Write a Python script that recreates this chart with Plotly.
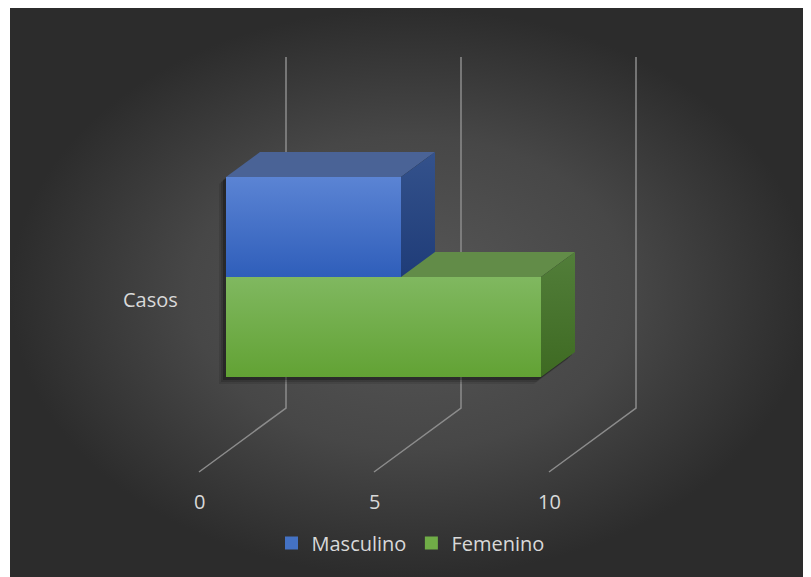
import plotly.graph_objects as go

# ---------------- data ----------------
categories = ["Casos"]
series_names = ["Masculino", "Femenino"]
values = [5, 9]
tick_values = [0, 5, 10]
tick_labels = ["0", "5", "10"]

# ---------------- styling / geometry constants ----------------
PAGE_OFF = 8                   # browser body margin
FIG_W, FIG_H = 811 - PAGE_OFF, 577 - PAGE_OFF
SCR_L, SCR_T, SCR_R, SCR_B = 10, 8, 811, 577   # dark area on screen
PX_PER_VAL = 35.0              # pixels per value unit
PX_PER_BAND = 100.0            # pixels per band unit (vertical)
X0_PX, Y0_PX = 226, 277        # screen pixel of value 0 / category centre on the front plane

def vx(px):
    return (px - X0_PX) / PX_PER_VAL

def vy(py):
    return (Y0_PX - py) / PX_PER_BAND

XR = [vx(SCR_L), vx(SCR_R)]
YR = [vy(SCR_B), vy(SCR_T)]

BAR_DX, BAR_DY = 34 / PX_PER_VAL, 25 / PX_PER_BAND       # bar depth
WALL_DX, WALL_DY = 60 / PX_PER_VAL, 44 / PX_PER_BAND     # back wall offset
FLOOR_DX, FLOOR_DY = -27 / PX_PER_VAL, -20 / PX_PER_BAND # floor front offset
FLOOR_Y = vy(452)
WALL_TOP_Y = vy(101)

# band per series: (bottom, top) in band units
bands = {"Masculino": (0.0, 1.0), "Femenino": (-1.0, 0.0)}
colors = {
    "Masculino": dict(front=("#2f5eba", "#5b84d4"), top="#4a6396",
                      side=("#1f3c78", "#34528c"), legend="#4472c4"),
    "Femenino": dict(front=("#62a234", "#80b860"), top="#628c48",
                     side=("#3e6a22", "#527e3a"), legend="#70ad47"),
}
TEXT = "#d9d9d9"
GRID = "#8c8c8c"
FONT = "Open Sans"

fig = go.Figure()

# background radial gradient
fig.add_trace(go.Scatter(
    x=[XR[0], XR[1], XR[1], XR[0], XR[0]],
    y=[YR[0], YR[0], YR[1], YR[1], YR[0]],
    mode="lines", line=dict(width=0), fill="toself",
    fillgradient=dict(type="radial",
                      colorscale=[[0, "#575757"], [0.55, "#474747"], [1, "#2c2c2c"]]),
    hoverinfo="skip", showlegend=False))

# gridlines: back wall verticals + floor diagonals
for t in tick_values:
    xs = [t + FLOOR_DX, t + WALL_DX, t + WALL_DX]
    ys = [FLOOR_Y + FLOOR_DY, FLOOR_Y + WALL_DY, WALL_TOP_Y + WALL_DY]
    fig.add_trace(go.Scatter(x=xs, y=ys, mode="lines",
                             line=dict(color=GRID, width=1.5),
                             hoverinfo="skip", showlegend=False))

# shadow silhouette of the whole bar block
def block_outline(offx, offy):
    vm, vf = values[0], values[1]
    b0, t0 = bands["Masculino"]
    b1, t1 = bands["Femenino"]
    pts = [(0, b1), (0, t0), (BAR_DX, t0 + BAR_DY), (vm + BAR_DX, t0 + BAR_DY),
           (vm + BAR_DX, b0 + BAR_DY), (vf + BAR_DX, t1 + BAR_DY),
           (vf + BAR_DX, b1 + BAR_DY), (vf, b1), (0, b1)]
    return [p[0] + offx for p in pts], [p[1] + offy for p in pts]

for k, op in [(7, 0.10), (5, 0.15), (3, 0.25)]:
    sx, sy = block_outline(-k / PX_PER_VAL, -k / PX_PER_BAND)
    fig.add_trace(go.Scatter(x=sx, y=sy, mode="lines", line=dict(width=0),
                             fill="toself", fillcolor=f"rgba(0,0,0,{op})",
                             hoverinfo="skip", showlegend=False))

# bars: draw Femenino first, then Masculino
for name in ["Femenino", "Masculino"]:
    v = values[series_names.index(name)]
    b, t = bands[name]
    c = colors[name]
    # top face
    fig.add_trace(go.Scatter(
        x=[0, v, v + BAR_DX, BAR_DX, 0], y=[t, t, t + BAR_DY, t + BAR_DY, t],
        mode="lines", line=dict(width=0), fill="toself", fillcolor=c["top"],
        hoverinfo="skip", showlegend=False))
    # side face
    fig.add_trace(go.Scatter(
        x=[v, v + BAR_DX, v + BAR_DX, v, v], y=[b, b + BAR_DY, t + BAR_DY, t, b],
        mode="lines", line=dict(width=0), fill="toself",
        fillgradient=dict(type="vertical", colorscale=[[0, c["side"][0]], [1, c["side"][1]]]),
        hoverinfo="skip", showlegend=False))
    # front face
    fig.add_trace(go.Scatter(
        x=[0, v, v, 0, 0], y=[b, b, t, t, b],
        mode="lines", line=dict(width=0), fill="toself",
        fillgradient=dict(type="vertical", colorscale=[[0, c["front"][0]], [1, c["front"][1]]]),
        hovertemplate=f"{name}: {v}<extra></extra>", showlegend=False))

# legend entries
for name in series_names:
    fig.add_trace(go.Scatter(x=[None], y=[None], mode="markers", name=name,
                             marker=dict(symbol="square", size=13,
                                         color=colors[name]["legend"])))

# tick labels on the floor front edge
for t, lab in zip(tick_values, tick_labels):
    fig.add_annotation(x=t + FLOOR_DX, y=FLOOR_Y + FLOOR_DY, text=lab,
                       showarrow=False, yshift=-29,
                       font=dict(family=FONT, size=20, color=TEXT))

# category label
fig.add_annotation(x=vx(150), y=vy(299), text=categories[0], showarrow=False,
                   font=dict(family=FONT, size=20, color=TEXT))

fig.update_layout(
    width=FIG_W, height=FIG_H,
    margin=dict(l=SCR_L - PAGE_OFF, r=0, t=SCR_T - PAGE_OFF, b=0, pad=0),
    paper_bgcolor="white", plot_bgcolor="#3a3a3a",
    xaxis=dict(range=XR, visible=False, fixedrange=True),
    yaxis=dict(range=YR, visible=False, fixedrange=True),
    showlegend=True,
    legend=dict(orientation="h", x=0.5, xanchor="center",
                y=(SCR_B - 543) / (SCR_B - SCR_T), yanchor="middle",
                bgcolor="rgba(0,0,0,0)",
                font=dict(family=FONT, size=20, color=TEXT),
                itemwidth=30, tracegroupgap=0),
    font=dict(family=FONT, color=TEXT),
)

fig.write_html("out.html")
